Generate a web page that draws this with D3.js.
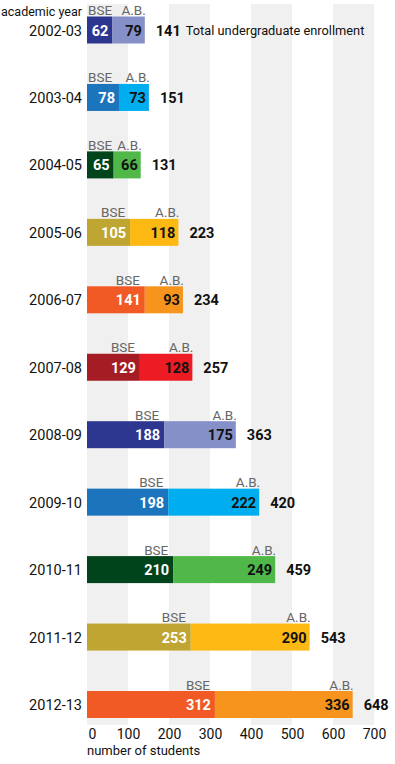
<!DOCTYPE html>
<html>
<head>
<meta charset="utf-8">
<script src="https://cdn.jsdelivr.net/npm/d3@7"></script>
<style>
  body { margin: 0; background: #fff; }
  svg text { font-family: Roboto, "Liberation Sans", sans-serif; }
</style>
</head>
<body>
<div id="chart"></div>
<script>
// data
let years  = ['2002-03','2003-04','2004-05','2005-06','2006-07','2007-08','2008-09','2009-10','2010-11','2011-12','2012-13'];
let bse    = [62, 78, 65, 105, 141, 129, 188, 198, 210, 253, 312];
let ab     = [79, 73, 66, 118, 93, 128, 175, 222, 249, 290, 336];
let totals = [141, 151, 131, 223, 234, 257, 363, 420, 459, 543, 648];
let ticks  = [0, 100, 200, 300, 400, 500, 600, 700];

// colour pairs repeat every six years
let bseColors = ['#2e3790', '#1c75bc', '#00441b', '#bfa532', '#f15a24', '#a51c24'];
let abColors  = ['#8590c8', '#00aeef', '#4fb848', '#fdb913', '#f7941d', '#ed1c24'];

let w = 395, h = 764;
let svg = d3.select('#chart').append('svg').attr('width', w).attr('height', h);

let x = d3.scaleLinear().domain([0, 700]).range([87, 374]);
let y = d3.scalePoint().domain(years).range([30, 704.5]);
let barH = 27;

// grey background stripes every other hundred
svg.append('g').selectAll('rect')
  .data(d3.range(0, 700, 100).filter((d, i) => i % 2 == 0))
  .enter().append('rect')
  .attr('x', d => x(d)).attr('width', d => x(d + 100) - x(d))
  .attr('y', 4).attr('height', 721)
  .attr('fill', '#f0f0f0');

let rows = years.map((yr, i) => ({
  year: yr, bse: bse[i], ab: ab[i], total: totals[i],
  c1: bseColors[i % 6], c2: abColors[i % 6]
}));

let g = svg.append('g').selectAll('g.row').data(rows).enter()
  .append('g').attr('class', 'row')
  .attr('transform', d => 'translate(0,' + y(d.year) + ')');

g.append('rect').attr('x', x(0)).attr('y', -barH / 2)
  .attr('width', d => x(d.bse) - x(0)).attr('height', barH).attr('fill', d => d.c1);
g.append('rect').attr('x', d => x(d.bse)).attr('y', -barH / 2)
  .attr('width', d => x(d.total) - x(d.bse)).attr('height', barH).attr('fill', d => d.c2);

// year labels
g.append('text').attr('x', 82).attr('y', 5.5).attr('text-anchor', 'end')
  .attr('font-size', 14.5).attr('fill', '#111').text(d => d.year);

// values inside bars
let bseVal = g.append('text').attr('x', d => x(d.bse) - 4).attr('y', 5.5)
  .attr('text-anchor', 'end').attr('font-size', 14.5).attr('font-weight', 'bold')
  .attr('fill', '#fff').text(d => d.bse);
g.append('text').attr('x', d => x(d.total) - 3).attr('y', 5.5)
  .attr('text-anchor', 'end').attr('font-size', 14.5).attr('font-weight', 'bold')
  .attr('fill', '#111').text(d => d.ab);

// totals
g.append('text').attr('x', d => x(d.total) + 11).attr('y', 5.5)
  .attr('font-size', 14.5).attr('font-weight', 'bold')
  .attr('fill', '#111').text(d => d.total);

// BSE / A.B. labels above the bars
g.append('text')
  .attr('x', function (d, i) {
    if (x(d.bse) - x(0) < 40) return x(0) + 1;
    return bseVal.nodes()[i].getBBox().x;
  })
  .attr('y', -barH / 2 - 1.5)
  .attr('font-size', 13.5).attr('fill', '#666').text('BSE');
g.append('text').attr('x', d => x(d.total) + 1).attr('y', -barH / 2 - 1.5)
  .attr('text-anchor', 'end').attr('font-size', 13.5).attr('fill', '#666').text('A.B.');

// header texts
svg.append('text').attr('x', 82).attr('y', 15.5).attr('text-anchor', 'end')
  .attr('font-size', 12.5).attr('fill', '#111').text('academic year');
svg.append('text').attr('x', x(totals[0]) + 41).attr('y', y(years[0]) + 5)
  .attr('font-size', 12.8).attr('fill', '#111').text('Total undergraduate enrollment');

// axis
let axis = svg.append('g').attr('transform', 'translate(0,728)')
  .call(d3.axisBottom(x).tickValues(ticks).tickSize(0).tickPadding(1));
axis.select('.domain').remove();
axis.selectAll('text').attr('font-size', 14).attr('fill', '#111')
  .style('font-family', 'Roboto, "Liberation Sans", sans-serif');
axis.selectAll('.tick').filter(d => d == 0).select('text').attr('text-anchor', 'start').attr('dx', 1);

svg.append('text').attr('x', x(0)).attr('y', 755)
  .attr('font-size', 13).attr('fill', '#111').text('number of students');
</script>
</body>
</html>
